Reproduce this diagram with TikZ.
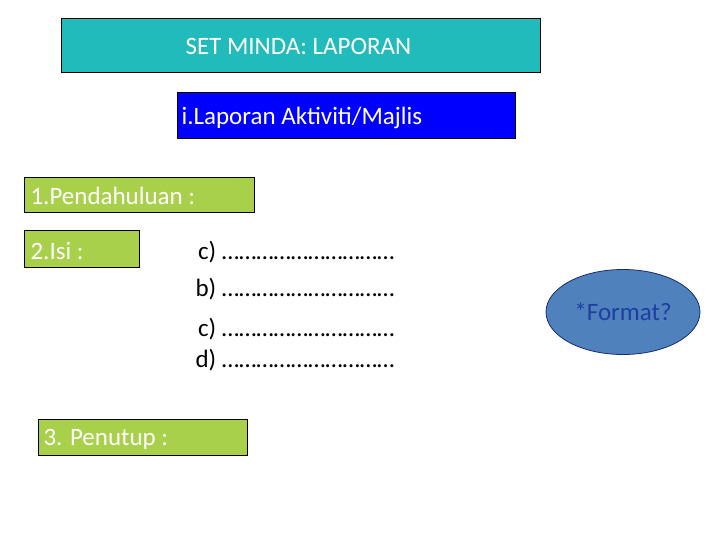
\documentclass[tikz,border=0pt]{standalone}
\usepackage{fontspec}
\setmainfont{Carlito}
\usetikzlibrary{shapes.geometric}
\definecolor{tealbox}{HTML}{22BBBB}
\definecolor{greenbox}{HTML}{A9D04B}
\definecolor{ovalblue}{HTML}{4F81BD}
\definecolor{ovaltext}{HTML}{1F3FA0}
\begin{document}
\begin{tikzpicture}[x=1pt,y=-1pt]

 \tikzset{
    label/.style={anchor=west, text=white, font=\fontsize{25}{28}\selectfont},
    item/.style={anchor=west, font=\fontsize{25}{28}\selectfont}
  }

\useasboundingbox (0,0) rectangle (728,546);

\draw[fill=tealbox, line width=0.8pt] (61,18) rectangle (540,72);
\node[label] (title) at (182,46) {SET MINDA: LAPORAN};

\draw[fill=blue, line width=0.8pt] (177,92) rectangle (515,138);
\node[label] (jenis) at (178,118) {i.Laporan Aktiviti/Majlis};

\draw[fill=greenbox, line width=0.8pt] (24,177) rectangle (254,212);
\node[label] (mula) at (27,196) {1.Pendahuluan :};

\draw[fill=greenbox, line width=0.8pt] (24,230) rectangle (139,267);
\node[label] (isi) at (27,251) {2.Isi :};

\draw[fill=greenbox, line width=0.8pt] (38,419) rectangle (247,455);
\node[label] (tutup) at (40,439) {3. Penutup :};

\node[item] (c1) at (192,252) {\phantom{d}\llap{c}) …………………………};
\node[item] (b) at (192,289) {\phantom{d}\llap{b}) …………………………};
\node[item] (c2) at (192,329) {\phantom{d}\llap{c}) …………………………};
\node[item] (d) at (192,360) {d) …………………………};

\node[ellipse, draw=ovaltext!70!black, line width=0.8pt, fill=ovalblue, minimum width=154, minimum height=85,
  inner sep=0pt, text=ovaltext, font=\fontsize{25}{28}\selectfont] (format) at (623,312) {*Format?};

\end{tikzpicture}
\end{document}
